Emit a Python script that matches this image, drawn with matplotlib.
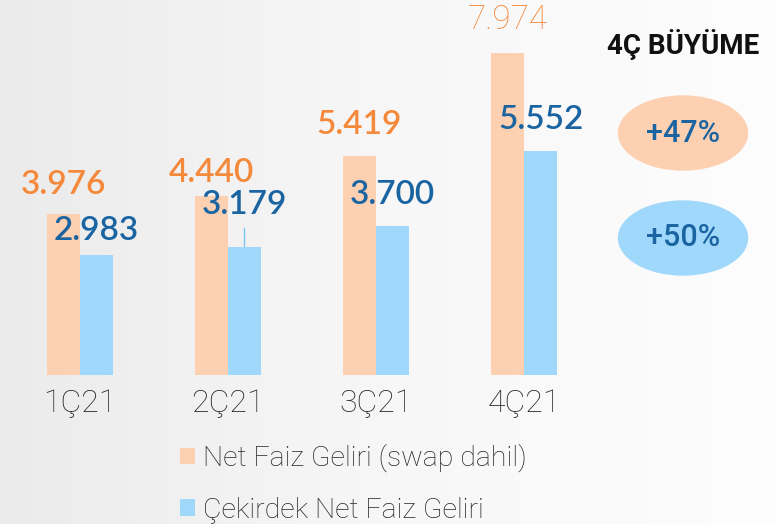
import matplotlib.pyplot as plt
import numpy as np
from matplotlib.colors import LinearSegmentedColormap
from matplotlib.patches import Ellipse

# chart data
quarters = ['1Ç21', '2Ç21', '3Ç21', '4Ç21']
net_faiz = [3976, 4440, 5419, 7974]
cekirdek = [2983, 3179, 3700, 5552]
value_labels_net = ['3.976', '4.440', '5.419', '7.974']
value_labels_cek = ['2.983', '3.179', '3.700', '5.552']
series_names = ['Net Faiz Geliri (swap dahil)', 'Çekirdek Net Faiz Geliri']
growth_title = '4Ç BÜYÜME'
growth_labels = ['+47%', '+50%']

# styles
orange_bar = '#fdd0b1'
blue_bar = '#a0d8fb'
orange_txt = '#f5893b'
blue_txt = '#1a64a2'
num_font = ['Lato', 'DejaVu Sans']
thin_font = ['Roboto', 'DejaVu Sans']

# label offsets above bar tops (points)
net_offsets = [21, 16, 22.5, 23.5]
cek_offsets = [17, 30, 22, 22.5]

fig = plt.figure(figsize=(7.76, 5.24), dpi=100)

# light grey gradient background
bg = fig.add_axes([0, 0, 1, 1], zorder=0)
cmap = LinearSegmentedColormap.from_list('bg', ['#ebebeb', '#f7f7f7', '#fdfdfd'])
bg.imshow(np.linspace(0, 1, 256).reshape(1, -1), aspect='auto', cmap=cmap,
          extent=[0, 1, 0, 1])
bg.axis('off')

ax = fig.add_axes([0, 0.2844, 1, 0.7156], zorder=1)
ax.patch.set_alpha(0)

x = np.arange(len(quarters))
w = 0.223
b1 = ax.bar(x - w / 2, net_faiz, w, color=orange_bar, label=series_names[0])
b2 = ax.bar(x + w / 2, cekirdek, w, color=blue_bar, label=series_names[1])

for i in range(len(quarters)):
    if i == 3:
        fam, wt = thin_font, 'light'
    else:
        fam, wt = num_font, 'semibold'
    ax.annotate(value_labels_net[i], (x[i] - w / 2, net_faiz[i]),
                xytext=(0, net_offsets[i]), textcoords='offset points',
                ha='center', va='center', fontsize=24, color=orange_txt,
                family=fam, fontweight=wt)
    props = None
    if i == 1:
        props = dict(arrowstyle='-', color='#7cc6f5', lw=1, shrinkA=4, shrinkB=0)
    ax.annotate(value_labels_cek[i], (x[i] + w / 2, cekirdek[i]),
                xytext=(0, cek_offsets[i]), textcoords='offset points',
                ha='center', va='center', fontsize=24, color=blue_txt,
                family=num_font, fontweight='semibold', arrowprops=props)

ax.set_xlim(-80 / 148, 696 / 148)
ax.set_ylim(0, 9287)
ax.set_xticks(x)
ax.set_xticklabels(quarters, fontsize=23, color='#262626', family=thin_font,
                   fontweight='light')
ax.tick_params(axis='x', length=0, pad=10)
ax.set_yticks([])
for s in ax.spines.values():
    s.set_visible(False)

leg = fig.legend(handles=[b1, b2], loc='upper left',
                 bbox_to_anchor=(180 / 776, 1 - 444 / 524),
                 frameon=False, handlelength=0.52, handleheight=0.52,
                 handletextpad=0.3, labelspacing=0.85, borderpad=0,
                 borderaxespad=0,
                 prop=dict(family=thin_font, weight='light', size=20.5))
for t in leg.get_texts():
    t.set_color('#262626')

# growth panel on the right
fig.text(683 / 776, 1 - 45 / 524, growth_title, ha='center', va='center',
         fontsize=20, fontweight='bold', color='#111111', family=thin_font)
for k, (lab, col) in enumerate(zip(growth_labels, [orange_bar, blue_bar])):
    cy = 1 - (133 + 105 * k) / 524
    fig.add_artist(Ellipse((683 / 776, cy), 129 / 776, 74 / 524,
                           transform=fig.transFigure, color=col, zorder=2))
    fig.text(683 / 776, cy, lab, ha='center', va='center', fontsize=22,
             color=blue_txt, family=thin_font, fontweight='medium', zorder=3)

fig.savefig('out.png', dpi=100)
